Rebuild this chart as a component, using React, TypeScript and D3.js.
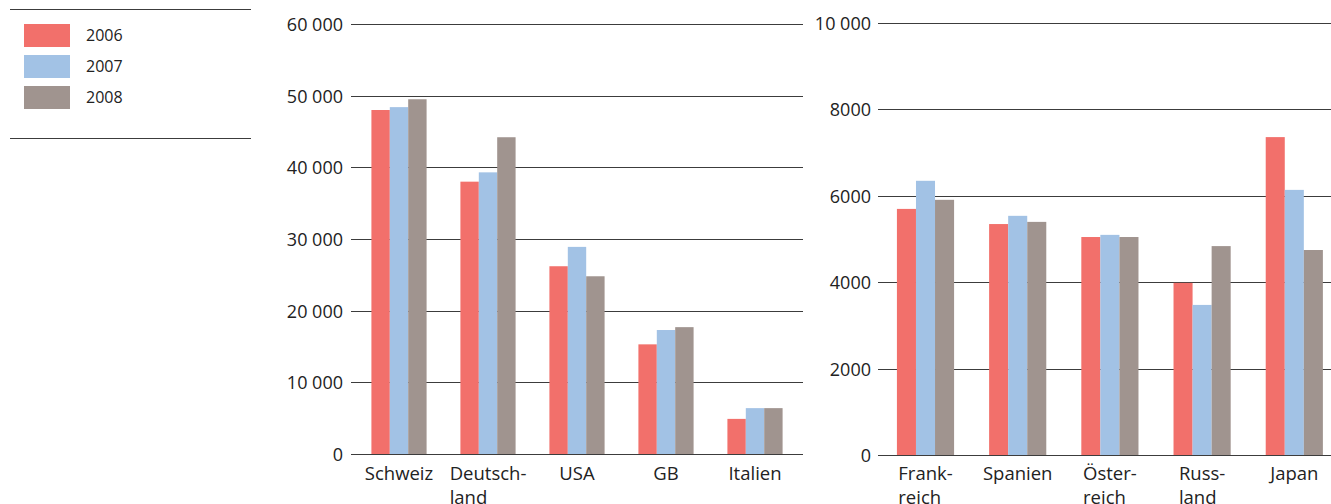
import { useEffect, useRef } from 'react'
import * as d3 from 'd3'

const years = ['2006', '2007', '2008']
const colors = ['#f2706b', '#a2c2e5', '#a0948f']

const leftCategories = ['Schweiz', 'Deutsch-|land', 'USA', 'GB', 'Italien']
const left2006 = [48000, 38000, 26200, 15300, 4900]
const left2007 = [48400, 39300, 28900, 17300, 6400]
const left2008 = [49500, 44200, 24800, 17700, 6400]
const leftTicks = [0, 10000, 20000, 30000, 40000, 50000, 60000]
const leftTickLabels = ['0', '10 000', '20 000', '30 000', '40 000', '50 000', '60 000']

const rightCategories = ['Frank-|reich', 'Spanien', 'Öster-|reich', 'Russ-|land', 'Japan']
const right2006 = [5690, 5340, 5040, 3980, 7350]
const right2007 = [6340, 5530, 5090, 3470, 6130]
const right2008 = [5900, 5390, 5040, 4830, 4740]
const rightTicks = [0, 2000, 4000, 6000, 8000, 10000]
const rightTickLabels = ['0', '2000', '4000', '6000', '8000', '10 000']

const W = 1331
const H = 504
const FONT = '"Open Sans", sans-serif'

interface Panel {
  cats: string[]
  series: number[][]
  ticks: number[]
  tickLabels: string[]
  yDomain: [number, number]
  yRange: [number, number]
  xRange: [number, number]
  gridX: [number, number]
  labelX: number
}

function drawPanel(svg: d3.Selection<SVGSVGElement, unknown, null, undefined>, p: Panel) {
  const g = svg.append('g')
  const y = d3.scaleLinear().domain(p.yDomain).range(p.yRange)
  const pi = 0.38
  const x0 = d3
    .scaleBand<string>()
    .domain(p.cats)
    .range(p.xRange)
    .paddingInner(pi)
    .paddingOuter(pi / 2)
  const x1 = d3.scaleBand<string>().domain(years).range([0, x0.bandwidth()])

  // gridlines + tick labels
  p.ticks.forEach((t, i) => {
    const yy = Math.round(y(t)) + 0.5
    g.append('line')
      .attr('x1', p.gridX[0])
      .attr('x2', p.gridX[1])
      .attr('y1', yy)
      .attr('y2', yy)
      .attr('stroke', '#3c3c3c')
      .attr('stroke-width', 1)
    g.append('text')
      .attr('x', p.labelX)
      .attr('y', yy)
      .attr('dy', '0.36em')
      .attr('text-anchor', 'end')
      .attr('font-family', FONT)
      .attr('font-size', 18)
      .attr('fill', '#222')
      .text(p.tickLabels[i])
  })

  // bars
  p.cats.forEach((c, ci) => {
    years.forEach((yr, si) => {
      const v = p.series[si][ci]
      g.append('rect')
        .attr('x', (x0(c) ?? 0) + (x1(yr) ?? 0))
        .attr('y', y(v))
        .attr('width', x1.bandwidth())
        .attr('height', y(0) - y(v))
        .attr('fill', colors[si])
    })
  })

  // baseline on top of bars
  const y0 = Math.round(y(0)) + 0.5
  g.append('line')
    .attr('x1', p.gridX[0])
    .attr('x2', p.gridX[1])
    .attr('y1', y0)
    .attr('y2', y0)
    .attr('stroke', '#3c3c3c')

  // category labels: first line centred, second line left-aligned to it
  p.cats.forEach(c => {
    const lines = c.split('|')
    const cx = (x0(c) ?? 0) + x0.bandwidth() / 2
    const t = g
      .append('text')
      .attr('font-family', FONT)
      .attr('font-size', 18.5)
      .attr('fill', '#222')
    const first = t.append('tspan').attr('x', cx).attr('y', 480).text(lines[0])
    const w = (first.node() as SVGTSpanElement).getComputedTextLength()
    const left = cx - w / 2
    first.attr('x', left)
    if (lines[1]) {
      t.append('tspan').attr('x', left).attr('y', 504).text(lines[1])
    }
  })
}

export default function App() {
  const svgRef = useRef<SVGSVGElement | null>(null)

  useEffect(() => {
    if (!svgRef.current) return
    const svg = d3.select(svgRef.current)
    svg.selectAll('*').remove()

    // legend
    const lg = svg.append('g')
    ;[9.5, 138.5].forEach(yy => {
      lg.append('line')
        .attr('x1', 10)
        .attr('x2', 251)
        .attr('y1', yy)
        .attr('y2', yy)
        .attr('stroke', '#3c3c3c')
    })
    years.forEach((yr, i) => {
      const top = 24 + i * 31
      lg.append('rect')
        .attr('x', 24)
        .attr('y', top)
        .attr('width', 46)
        .attr('height', 23)
        .attr('fill', colors[i])
      lg.append('text')
        .attr('x', 86)
        .attr('y', top + 11.5)
        .attr('dy', '0.36em')
        .attr('font-family', FONT)
        .attr('font-size', 16)
        .attr('fill', '#222')
        .text(yr)
    })

    drawPanel(svg, {
      cats: leftCategories,
      series: [left2006, left2007, left2008],
      ticks: leftTicks,
      tickLabels: leftTickLabels,
      yDomain: [0, 60000],
      yRange: [454, 24],
      xRange: [354.5, 799.5],
      gridX: [351, 803],
      labelX: 343,
    })

    drawPanel(svg, {
      cats: rightCategories,
      series: [right2006, right2007, right2008],
      ticks: rightTicks,
      tickLabels: rightTickLabels,
      yDomain: [0, 10000],
      yRange: [455, 22.5],
      xRange: [879.4, 1340.4],
      gridX: [878, 1331],
      labelX: 871,
    })
  }, [])

  return (
    <svg
      ref={svgRef}
      width={W}
      height={H}
      style={{ position: 'absolute', left: 0, top: 0, background: '#fff' }}
    />
  )
}
